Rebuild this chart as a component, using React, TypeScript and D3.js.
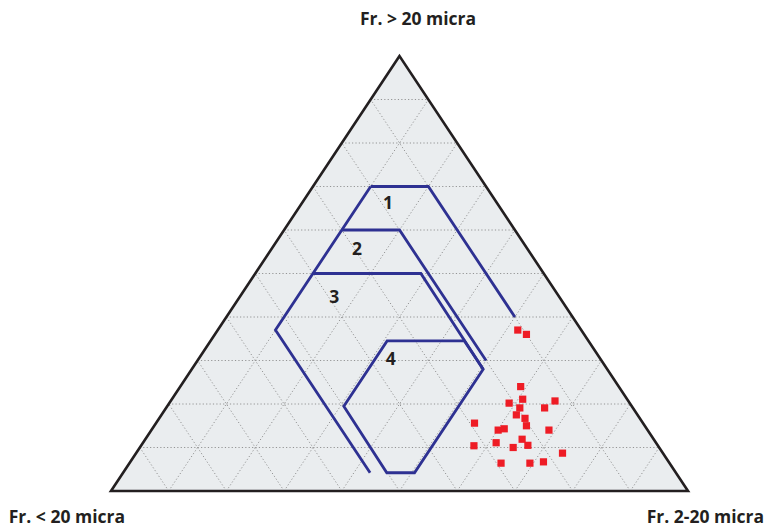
import React from "react";
import * as d3 from "d3";

// Ternary data: a = Fr. > 20 micra (top), c = Fr. 2-20 micra (right), b = Fr. < 20 micra (left) = 100 - a - c
const sampleA = [37, 36, 24, 21.1, 20.2, 20.7, 19.1, 19.1, 17.5, 16.7, 15.0, 15.6, 14.0, 14.3, 14.0, 11.9, 10.5, 11.1, 10.0, 10.4, 8.7, 6.4, 6.4, 6.7];
const sampleC = [52, 54, 59, 60.8, 58.9, 66.6, 65.6, 61.3, 61.5, 63.4, 64.5, 55.2, 60.1, 61.0, 68.9, 65.3, 67.0, 61.2, 64.7, 57.7, 73.9, 64.4, 69.4, 71.6];

// Field boundaries as [a, c] ternary vertices
const outerLine: [number, number][] = [[70, 10], [37, 10], [4.2, 42.8]];
const field1Line: [number, number][] = [[70, 10], [70, 20], [40, 50]];
const field2Line: [number, number][] = [[60, 10], [60, 20], [30, 50]];
const field3Line: [number, number][] = [[50, 10], [50, 28.7], [28, 50.5]];
const field4Poly: [number, number][] = [[34.5, 30.6], [34.5, 44], [28, 50.5], [4.2, 50.5], [4.2, 45.7], [19.5, 30.6]];

const fieldLabels = ["1", "2", "3", "4"];
const fieldLabelA = [66.4, 55.9, 44.8, 30.6];
const fieldLabelC = [14.8, 14.7, 16.3, 33.2];

const gridSteps = [10, 20, 30, 40, 50, 60, 70, 80, 90];

const axisTop = "Fr. > 20 micra";
const axisLeft = "Fr. < 20 micra";
const axisRight = "Fr. 2-20 micra";

const W = 766;
const H = 532;

const xScale = d3.scaleLinear().domain([0, 100]).range([111, 688]);
const yScale = d3.scaleLinear().domain([0, 100]).range([491, 56]);

const px = (a: number, c: number): [number, number] => [xScale(c + a / 2), yScale(a)];

const lineGen = d3.line<[number, number]>().x((d) => px(d[0], d[1])[0]).y((d) => px(d[0], d[1])[1]);

const FONT = "'Open Sans', 'DejaVu Sans', sans-serif";
const BLUE = "#2E3192";
const DARK = "#231f20";

export default function App() {
  const tri: [number, number][] = [[100, 0], [0, 0], [0, 100]];
  const triPath = lineGen(tri) + "Z";

  const gridLines: [number, number][][] = [];
  gridSteps.forEach((i) => {
    gridLines.push([[i, 0], [i, 100 - i]]); // constant a
    gridLines.push([[0, i], [100 - i, i]]); // constant c
    gridLines.push([[0, 100 - i], [100 - i, 0]]); // constant b
  });

  const fieldLines = [outerLine, field1Line, field2Line, field3Line];

  return (
    <svg width={W} height={H} style={{ position: "absolute", left: 0, top: 0, background: "#fff" }}>
      <path d={triPath} fill="#eaedef" />
      <g>
        {gridLines.map((g, i) => (
          <path key={i} d={lineGen(g) || ""} stroke="#8a8a8a" strokeWidth={0.9} strokeDasharray="1.2 2.2" fill="none" />
        ))}
      </g>
      <path d={triPath} fill="none" stroke={DARK} strokeWidth={2.6} strokeLinejoin="miter" />
      <g fill="none" stroke={BLUE} strokeWidth={2.8} strokeLinejoin="miter">
        {fieldLines.map((l, i) => (
          <path key={i} d={lineGen(l) || ""} />
        ))}
        <path d={(lineGen(field4Poly) || "") + "Z"} />
      </g>
      <g fontFamily={FONT} fontWeight={700} fontSize={17.5} fill={DARK} textAnchor="middle" dominantBaseline="central">
        {fieldLabels.map((t, i) => {
          const [x, y] = px(fieldLabelA[i], fieldLabelC[i]);
          return (
            <text key={t} x={x} y={y}>
              {t}
            </text>
          );
        })}
      </g>
      <g>
        {sampleA.map((a, i) => {
          const [x, y] = px(a, sampleC[i]);
          return <rect key={i} x={x - 3.6} y={y - 3.6} width={7.2} height={7.2} fill="#ee1c25" />;
        })}
      </g>
      <g fontFamily={FONT} fontWeight={700} fontSize={17.5} fill={DARK}>
        <text x={418} y={25} textAnchor="middle">{axisTop}</text>
        <text x={125} y={523} textAnchor="end">{axisLeft}</text>
        <text x={764} y={523} textAnchor="end">{axisRight}</text>
      </g>
    </svg>
  );
}
